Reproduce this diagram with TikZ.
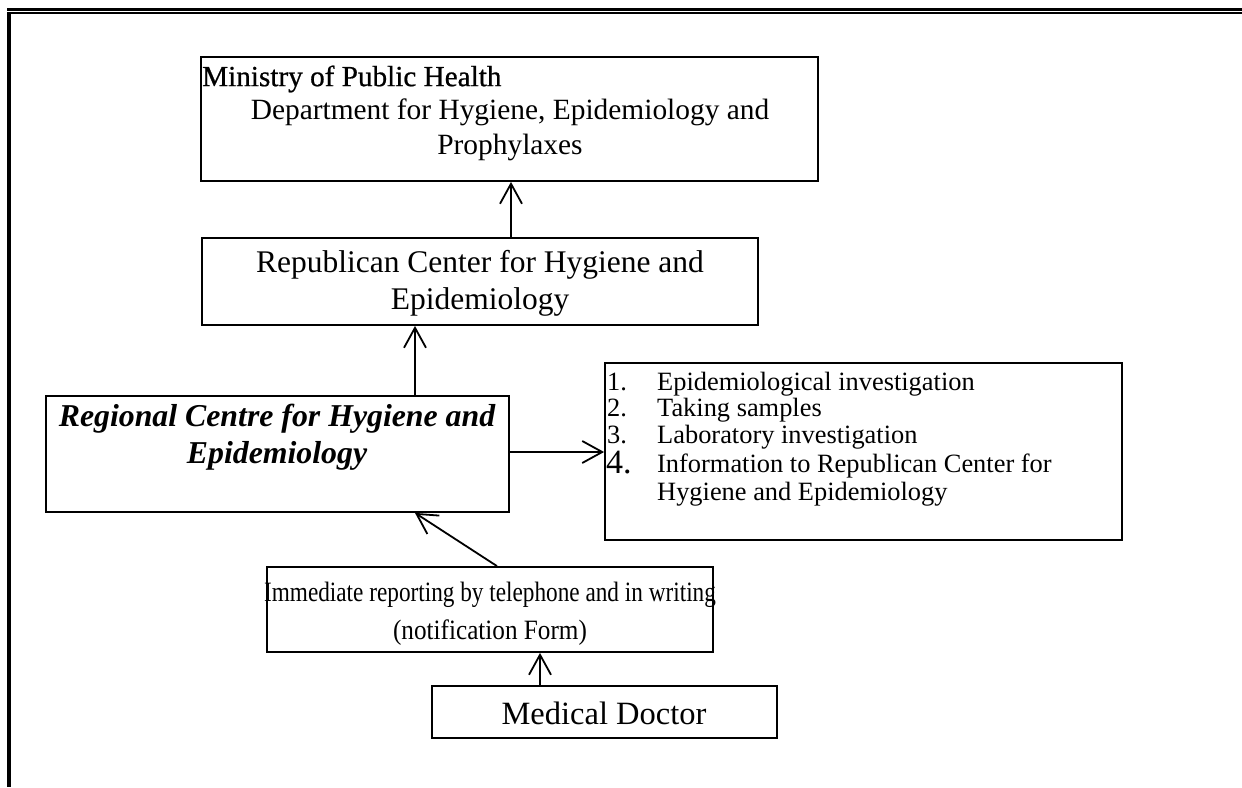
\documentclass[tikz,border=0pt]{standalone}
\usepackage{fontspec}
\setmainfont{Liberation Serif}
\newfontfamily\minfont[FakeBold=0.7]{Liberation Serif}
\usetikzlibrary{arrows.meta}
\begin{document}
\begin{tikzpicture}[x=1pt,y=-1pt,
  box/.style={draw, line width=1.8pt, inner sep=0pt},
  txt/.style={inner sep=0pt},
  conn/.style={line width=1.8pt, -{Straight Barb[length=20pt,width=22pt,line width=1.8pt]}}]
\useasboundingbox (0,0) rectangle (1242,787);
% page border
\draw[line width=3.6pt] (7,9.6) -- (1242,9.6);
\draw[line width=1.4pt] (7,12.8) -- (1242,12.8);
\draw[line width=3.8pt] (9.1,12) -- (9.1,787);
% boxes
\node[box, minimum width=617pt, minimum height=124pt] (min) at (509.5,119) {};
\node[box, minimum width=556pt, minimum height=87pt] (rep) at (480,281.5) {};
\node[box, minimum width=463pt, minimum height=116pt] (reg) at (277.5,454) {};
\node[box, minimum width=517pt, minimum height=177pt] (lst) at (863.5,451.5) {};
\node[box, minimum width=446pt, minimum height=85pt] (imm) at (490,609.5) {};
\node[box, minimum width=345pt, minimum height=52pt] (doc) at (604.5,712) {};
% texts
\node[txt, anchor=west, font=\minfont\fontsize{29.2}{36}\selectfont] (mint) at (202,79) {Ministry of Public Health};
\node[txt, align=center, font=\fontsize{29.4}{35}\selectfont] (dept) at (510,130) {Department for Hygiene, Epidemiology and\\Prophylaxes};
\node[txt, align=center, font=\fontsize{31.5}{37}\selectfont] (rept) at (480,283) {Republican Center for Hygiene and\\Epidemiology};
\node[txt, align=center, font=\fontsize{31.8}{37}\selectfont\bfseries\itshape] (regt) at (277,437) {Regional Centre for Hygiene and\\Epidemiology};
\node[txt, anchor=base, font=\fontsize{28}{37}\selectfont] (immt) at (490,601) {\scalebox{0.83}[1]{Immediate reporting by telephone and in writing}};
\node[txt, anchor=base, font=\fontsize{28}{37}\selectfont] (immt2) at (490,639) {\scalebox{0.9}[1]{(notification Form)}};
\node[txt, font=\fontsize{32.5}{37}\selectfont] (doct) at (604,713) {Medical Doctor};
% list
\tikzset{item/.style={txt, anchor=base west, font=\fontsize{26.4}{30}\selectfont}}
\node[item] (n1) at (607,390) {1.};
\node[item] (i1) at (657,390) {Epidemiological investigation};
\node[item] (n2) at (607,416) {2.};
\node[item] (i2) at (657,416) {Taking samples};
\node[item] (n3) at (607,443) {3.};
\node[item] (i3) at (657,443) {Laboratory investigation};
\node[txt, anchor=base west, font=\fontsize{34}{36}\selectfont] (n4) at (606,473) {4.};
\node[item] (i4) at (657,472) {Information to Republican Center for};
\node[item] (i5) at (657,500) {Hygiene and Epidemiology};
% connector columns
\coordinate (c1) at (511,0);
\coordinate (c2) at (415,0);
\coordinate (c3) at (0,452);
\coordinate (c4) at (497,0);
\coordinate (c5) at (540,0);
\draw[conn] (rep.north -| c1) -- (min.south -| c1);
\draw[conn] (reg.north -| c2) -- (rep.south -| c2);
\draw[conn] (reg.east |- c3) -- (lst.west |- c3);
\draw[conn] (imm.north -| c4) -- (reg.south -| c2);
\draw[conn] (doc.north -| c5) -- (imm.south -| c5);
\end{tikzpicture}
\end{document}
